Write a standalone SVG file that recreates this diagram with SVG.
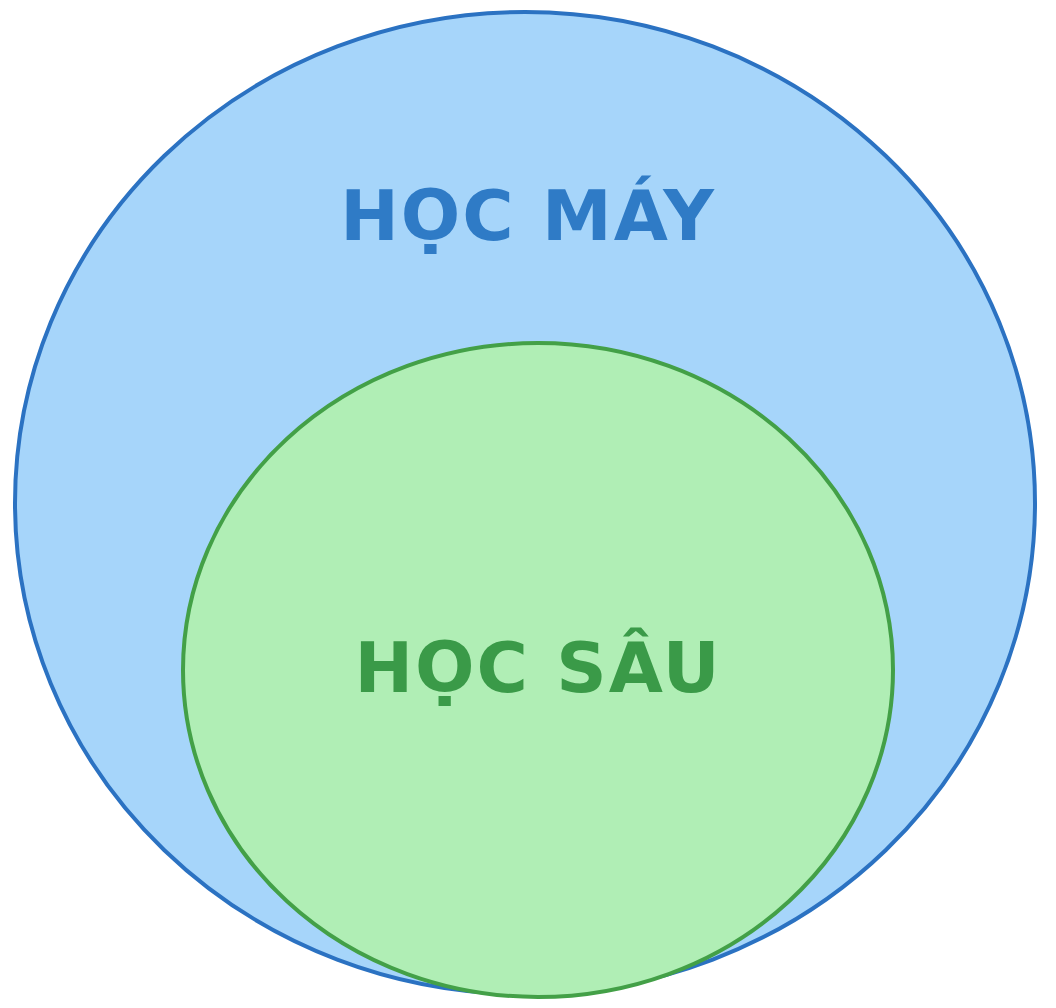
<svg xmlns="http://www.w3.org/2000/svg" width="1056" height="1008" viewBox="0 0 1056 1008">
<style>
.lbl{font-family:"DejaVu Sans","Liberation Sans",sans-serif;font-weight:bold;font-size:70px;text-anchor:middle;letter-spacing:2px}
</style>
<rect width="1056" height="1008" fill="#ffffff"/>
<g id="hoc-may">
<ellipse cx="525" cy="503" rx="510" ry="491" fill="#a6d5fa" stroke="#2b72c2" stroke-width="4"/>
<text class="lbl" x="528" y="240" fill="#2f7bc6">HỌC MÁY</text>
</g>
<g id="hoc-sau">
<ellipse cx="538" cy="670" rx="355" ry="327" fill="#b0eeb5" stroke="#43a047" stroke-width="4"/>
<text class="lbl" x="538" y="692" fill="#3a9a48">HỌC SÂU</text>
</g>
<g id="connectors"/>
</svg>
